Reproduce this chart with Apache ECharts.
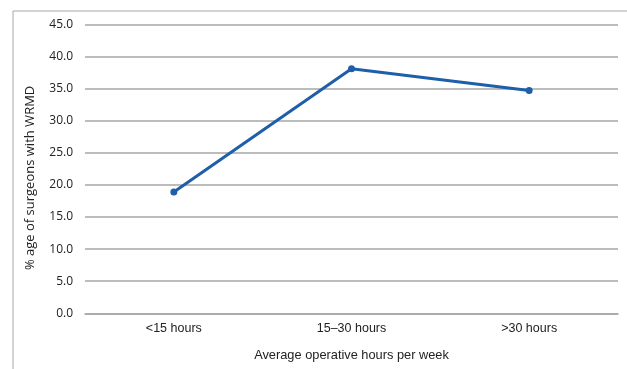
<!DOCTYPE html>
<html>
<head>
<meta charset="utf-8">
<script src="https://cdn.jsdelivr.net/npm/echarts@6/dist/echarts.min.js"></script>
<style>
  html, body { margin: 0; padding: 0; background: #fff; }
  #main { width: 627px; height: 369px; }
</style>
</head>
<body>
<div id="main"></div>
<script>
// data
var categories = ['<15 hours', '15\u201330 hours', '>30 hours'];
var wrmdPercent = [18.9, 38.1, 34.7];
var yTicks = { min: 0, max: 45, interval: 5 };

var chart = echarts.init(document.getElementById('main'));

var option = {
  animation: false,
  // the thin frame round the chart (top and left edges only)
  graphic: [
    { type: 'line', shape: { x1: 13, y1: 11, x2: 627, y2: 11 }, style: { stroke: '#a6a6a6', lineWidth: 1 } },
    { type: 'line', shape: { x1: 13, y1: 11, x2: 13, y2: 369 }, style: { stroke: '#a6a6a6', lineWidth: 1 } }
  ],
  grid: { left: 85, right: 9, top: 24.5, bottom: 55.7 },
  xAxis: {
    type: 'category',
    data: categories,
    name: 'Average operative hours per week',
    nameLocation: 'middle',
    nameGap: 36,
    nameTextStyle: { fontFamily: 'Liberation Sans', fontSize: 12.8, color: '#222' },
    axisLine: { show: true, lineStyle: { color: '#a6a6a6', width: 1.5 } },
    axisTick: { show: false },
    axisLabel: { fontFamily: 'Liberation Sans', fontSize: 12.5, color: '#222', margin: 9 }
  },
  yAxis: {
    type: 'value',
    min: yTicks.min,
    max: yTicks.max,
    interval: yTicks.interval,
    name: '% age of surgeons with WRMD',
    nameLocation: 'middle',
    nameGap: 48,
    nameTextStyle: { fontFamily: 'Open Sans', fontSize: 13, color: '#222', padding: [0, 18, 0, 0] },
    axisLine: { show: false },
    axisTick: { show: false },
    axisLabel: {
      fontFamily: 'Open Sans', fontSize: 12, color: '#222', margin: 12,
      formatter: function (v) { return v.toFixed(1); }
    },
    splitLine: { lineStyle: { color: '#a6a6a6', width: 1.5 } }
  },
  series: [
    {
      type: 'line',
      data: wrmdPercent,
      symbol: 'circle',
      symbolSize: 7,
      lineStyle: { color: '#1f5ea8', width: 3 },
      itemStyle: { color: '#1f5ea8' }
    }
  ]
};

chart.setOption(option);
</script>
</body>
</html>
